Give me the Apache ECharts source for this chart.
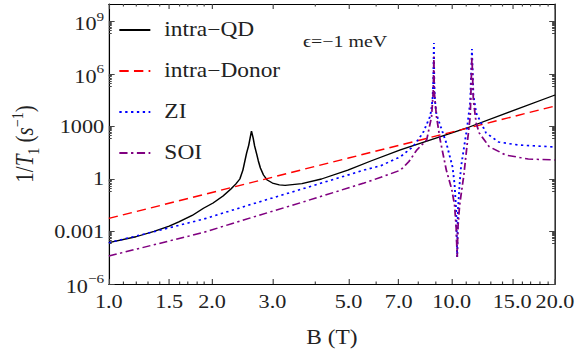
<!DOCTYPE html>
<html>
<head>
<meta charset="utf-8">
<script src="https://cdn.jsdelivr.net/npm/echarts@6/dist/echarts.min.js"></script>
<style>
  html, body { margin: 0; padding: 0; background: #fff; overflow: hidden; }
  /* the reference is a horizontally stretched plot, so draw narrower and stretch */
  #app { width: 494px; height: 358px; transform: scaleX(1.17); transform-origin: 0 0; }
</style>
</head>
<body>
<div id="app"></div>
<script>
// B in tesla, rates given as log10 of 1/T1 (s^-1)
const qdField = [1.0, 1.2, 1.355, 1.5, 1.6, 1.75, 1.888, 2.014, 2.153, 2.27, 2.344, 2.41, 2.46, 2.489, 2.523, 2.559, 2.582, 2.606,
  2.636, 2.661, 2.698, 2.729, 2.767, 2.825, 2.897, 3.0, 3.141, 3.266, 3.656, 4.169, 4.977, 5.808, 7.079, 11.25, 20.0];
const qdRate = [-3.64, -3.3, -2.99, -2.69, -2.45, -2.08, -1.67, -1.37, -0.97, -0.57, -0.29, 0.0, 0.51, 0.97, 1.49, 1.94, 2.34, 2.74,
  2.34, 1.89, 1.43, 1.03, 0.63, 0.23, -0.06, -0.23, -0.34, -0.37, -0.26, 0.0, 0.51, 1.03, 1.66, 2.97, 4.8];

const donorField = [1.0, 2.0, 5.0, 10.0, 20.0];
const donorRate = [-2.25, -0.77, 1.2, 2.68, 4.17];

const ziField = [1.0, 1.36, 1.89, 2.62, 3.66, 5.55, 6.21, 7.08, 7.71, 8.24, 8.63, 8.71, 8.79, 8.83, 8.87, 8.89, 8.93, 9.02,
  9.64, 10.05, 10.19, 10.3, 10.37, 10.42, 10.54, 10.64, 11.09, 11.32, 11.45, 11.56, 11.78, 12.59, 13.71, 15.67, 20.0];
const ziRate = [-3.64, -3.0, -2.29, -1.43, -0.57, 0.51, 0.76, 1.27, 1.85, 2.63, 3.54, 3.9, 4.6, 5.5, 7.77, 5.5, 4.5, 3.7,
  2.06, 0.69, -0.3, -1.8, -4.46, -1.8, -0.3, 0.69, 2.97, 4.4, 7.43, 4.8, 3.77, 2.63, 2.11, 1.94, 1.83];

const soiField = [1.0, 1.89, 2.62, 3.66, 5.55, 6.21, 7.08, 7.5, 7.91, 8.45, 8.73, 8.83, 8.87, 8.89, 9.02, 9.25, 9.64,
  10.0, 10.19, 10.3, 10.37, 10.42, 10.54, 10.84, 11.09, 11.32, 11.45, 11.56, 11.78, 12.02, 12.85, 14.35, 16.71, 20.0];
const soiRate = [-4.4, -3.05, -2.19, -1.33, -0.23, 0.1, 0.5, 1.0, 1.66, 2.23, 3.56, 5.0, 7.0, 5.0, 3.6, 2.23, 0.51,
  -0.6, -1.5, -2.8, -4.46, -2.8, -1.5, 0.2, 2.0, 3.6, 7.0, 4.5, 3.2, 2.63, 1.85, 1.37, 1.14, 1.09];

const xMajor = [1.0, 1.5, 2.0, 3.0, 5.0, 7.0, 10.0, 15.0, 20.0];
const xMinor = [1.1, 1.2, 1.3, 1.4, 1.6, 1.7, 1.8, 1.9, 4, 6, 8, 9, 11, 12, 13, 14, 16, 17, 18, 19];
const yMajor = [-6, -3, 0, 3, 6, 9];

const FONT = '"Liberation Serif", "Times New Roman", serif';
const xMin = 0, xMax = Math.log10(20), yMin = -6, yMax = 10;

const yMinor = [];
yMajor.forEach((e) => {
  for (let m = 2; m <= 9; m++) {
    const v = e - 1 + Math.log10(m);
    if (v > yMin) yMinor.push(v);
  }
});

const toPoints = (field, rate) => field.map((b, i) => [Math.log10(b), rate[i]]);

const yLabel = (v) => {
  const e = Math.round(v);
  if (Math.abs(e) <= 3) return String(Math.pow(10, e));
  return '{b|10}{sup|' + (e < 0 ? '\u2212' : '') + Math.abs(e) + '}';
};

const makeX = (pos, ticks, len, line, labels) => ({
  type: 'value', position: pos, min: xMin, max: xMax,
  splitLine: { show: false },
  axisLine: { show: line, onZero: false, lineStyle: { color: '#000', width: 1.1 } },
  axisTick: { show: true, inside: true, length: len, customValues: ticks.map(Math.log10), lineStyle: { color: '#444', width: 1 } },
  axisLabel: labels ? {
    show: true, customValues: xMajor.map(Math.log10), margin: 8,
    fontFamily: FONT, fontSize: 19, color: '#222',
    formatter: (v) => Math.pow(10, v).toFixed(1)
  } : { show: false }
});

const makeY = (pos, ticks, len, line, labels) => ({
  type: 'value', position: pos, min: yMin, max: yMax,
  splitLine: { show: false },
  axisLine: { show: line, onZero: false, lineStyle: { color: '#000', width: 1.1 } },
  axisTick: { show: true, inside: true, length: len, customValues: ticks, lineStyle: { color: '#444', width: 1 } },
  axisLabel: labels ? {
    show: true, customValues: yMajor, margin: 4,
    fontFamily: FONT, fontSize: 19, color: '#222',
    formatter: yLabel,
    rich: {
      b: { fontFamily: FONT, fontSize: 19, color: '#222', lineHeight: 24, verticalAlign: 'bottom' },
      sup: { fontFamily: FONT, fontSize: 13, color: '#222', lineHeight: 24, verticalAlign: 'top' }
    }
  } : { show: false }
});

const xAxes = [
  makeX('bottom', xMajor, 5, true, true),
  makeX('bottom', xMinor, 2.5, false, false),
  makeX('top', xMajor, 5, true, false),
  makeX('top', xMinor, 2.5, false, false)
];
xAxes[0].name = 'B (T)';
xAxes[0].nameLocation = 'middle';
xAxes[0].nameGap = 44;
xAxes[0].nameTextStyle = { fontFamily: FONT, fontSize: 20, color: '#222' };

const yAxes = [
  makeY('left', yMajor, 5, true, true),
  makeY('left', yMinor, 2.5, false, false),
  makeY('right', yMajor, 5, true, false),
  makeY('right', yMinor, 2.5, false, false)
];
yAxes[0].name = '{n|1/}{i|T}{s|1}{n| (}{i|s}{p|\u22121}{n|)}';
yAxes[0].nameLocation = 'middle';
yAxes[0].nameGap = 58;
yAxes[0].nameTextStyle = {
  fontFamily: FONT, fontSize: 21, color: '#222',
  rich: {
    n: { fontFamily: FONT, fontSize: 21, color: '#222', lineHeight: 27 },
    i: { fontFamily: FONT, fontSize: 21, color: '#222', fontStyle: 'italic', lineHeight: 27 },
    s: { fontFamily: FONT, fontSize: 14, color: '#222', lineHeight: 27, verticalAlign: 'bottom' },
    p: { fontFamily: FONT, fontSize: 14, color: '#222', lineHeight: 27, verticalAlign: 'top' }
  }
};

const line = (name, field, rate, color, type, width) => ({
  name, type: 'line', xAxisIndex: 0, yAxisIndex: 0,
  data: toPoints(field, rate),
  symbol: 'none', smooth: false, silent: true,
  lineStyle: { color, width, type },
  itemStyle: { color },
  z: 3
});

const chart = echarts.init(document.getElementById('app'), null, { renderer: 'svg' });
chart.setOption({
  animation: false,
  backgroundColor: '#fff',
  grid: { left: 89, right: 18, top: 4, bottom: 74, containLabel: false },
  legend: {
    orient: 'vertical', left: 101, top: 19, padding: 0,
    itemWidth: 26.5, itemHeight: 14, itemGap: 19,
    itemStyle: { opacity: 0 },
    textStyle: { fontFamily: FONT, fontSize: 20, color: '#222', lineHeight: 22, padding: [0, 0, 0, 7] },
    data: ['intra\u2212QD', 'intra\u2212Donor', 'ZI', 'SOI']
  },
  xAxis: xAxes,
  yAxis: yAxes,
  graphic: [{
    type: 'text', left: 259, top: 33,
    style: { text: '\u03f5=\u22121 meV', fontFamily: FONT, fontSize: 17, fill: '#222' }
  }],
  series: [
    line('intra\u2212QD', qdField, qdRate, '#000', 'solid', 1.3),
    line('intra\u2212Donor', donorField, donorRate, '#ff0000', [8, 4.5], 1.4),
    line('ZI', ziField, ziRate, '#0000ff', [2, 3], 1.6),
    line('SOI', soiField, soiRate, '#800080', [7, 3, 2, 3], 1.5)
  ]
});
</script>
</body>
</html>
